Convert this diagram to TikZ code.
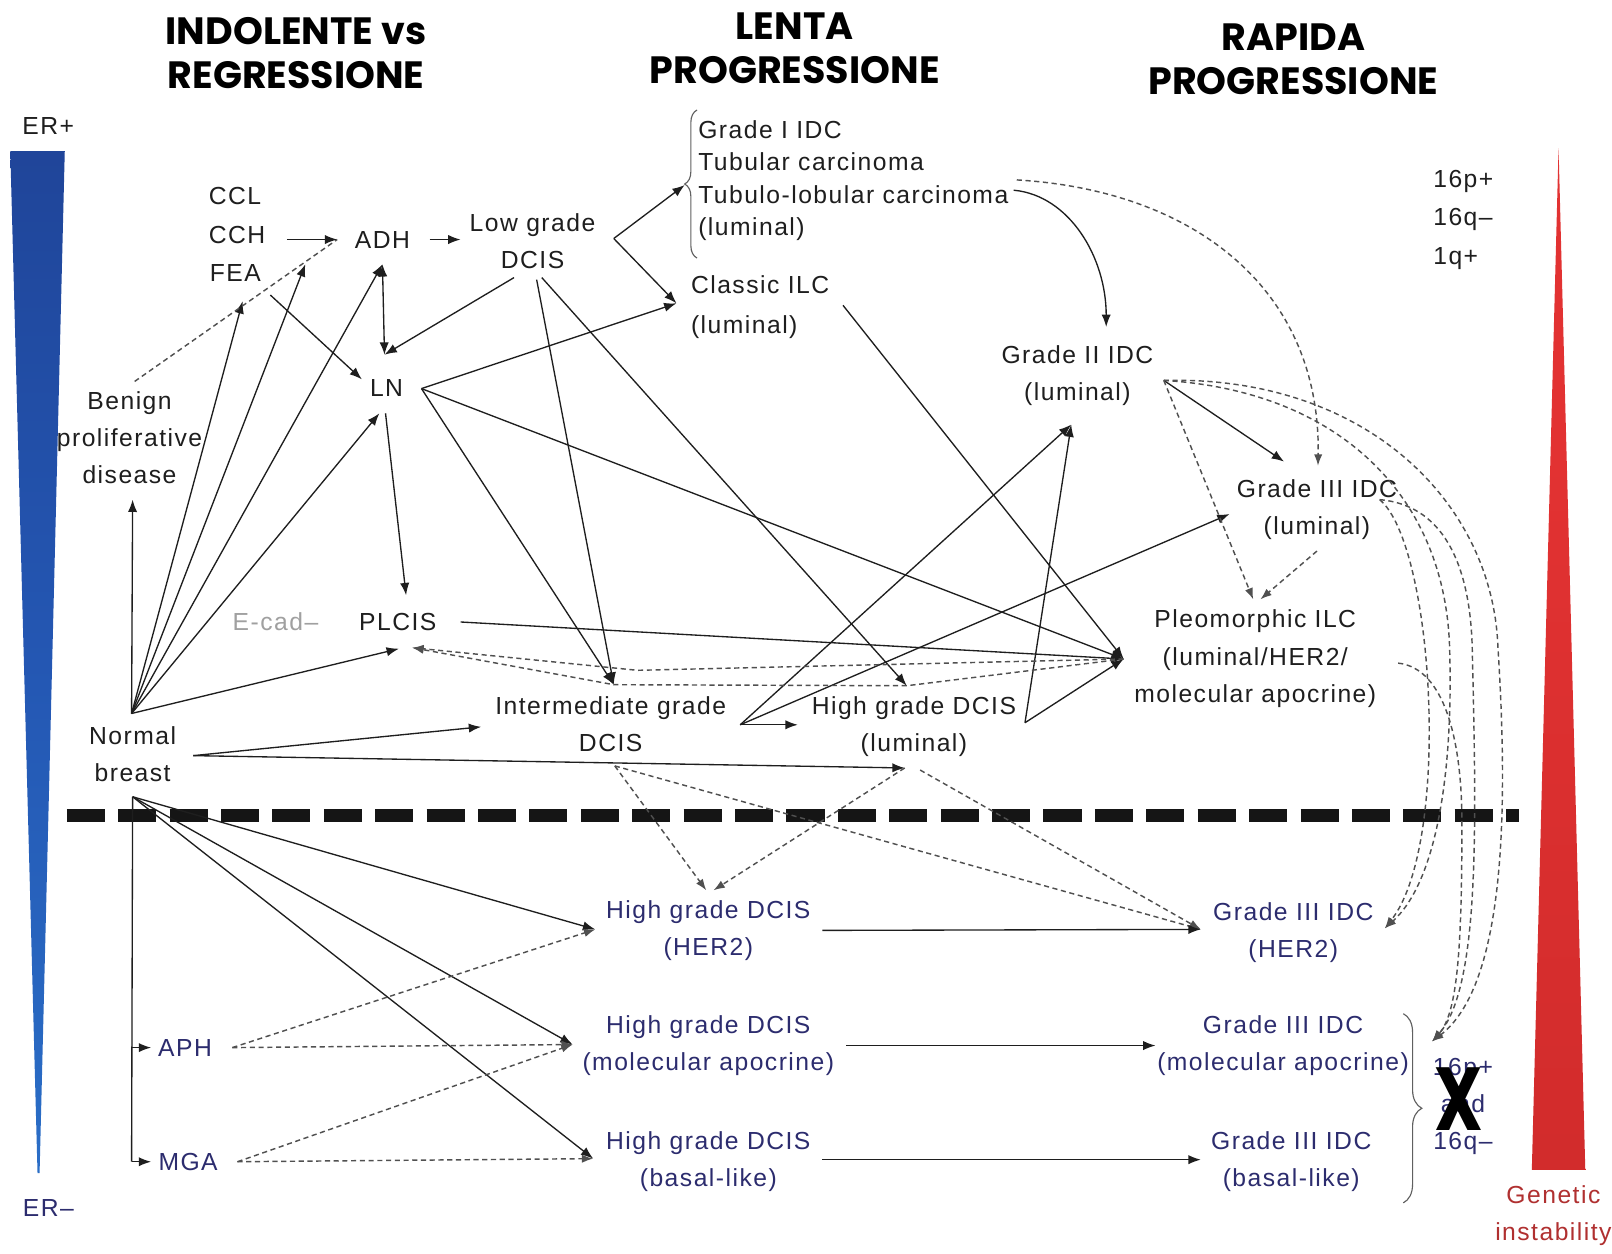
\documentclass[tikz,border=0pt]{standalone}
\usepackage{fontspec}
\usetikzlibrary{arrows.meta,decorations.pathreplacing}
\newfontfamily\lblfam{Liberation Sans}[LetterSpace=6]
\newfontfamily\headfam{Poppins}
\definecolor{ink}{HTML}{1E1E1E}
\definecolor{navy}{HTML}{2C2C6E}
\definecolor{dashc}{HTML}{505050}
\definecolor{brcol}{HTML}{606060}
\definecolor{ecadc}{HTML}{A0A0A0}
\definecolor{genc}{HTML}{B03030}
\definecolor{sepc}{HTML}{151515}
\definecolor{erTip}{HTML}{1A2340}
\definecolor{erLow}{HTML}{2F80D6}
\definecolor{erMid}{HTML}{2457B3}
\definecolor{erTop}{HTML}{1B3380}
\definecolor{giLow}{HTML}{C62727}
\definecolor{giMid}{HTML}{E23232}
\definecolor{giTop}{HTML}{2A1212}
\pgfdeclareverticalshading{erband}{100bp}{color(0bp)=(erTip); color(5bp)=(erLow); color(50bp)=(erMid); color(100bp)=(erTop)}
\pgfdeclareverticalshading{giband}{100bp}{color(0bp)=(giLow); color(60bp)=(giMid); color(96bp)=(giMid); color(100bp)=(giTop)}
\begin{document}
\begin{tikzpicture}[x=1pt,y=-1pt,
  lbl/.style={font=\lblfam\fontsize{24}{36}\selectfont, text=ink, align=center, inner sep=0pt},
  nlbl/.style={lbl, text=navy},
  head/.style={font=\headfam\bfseries\fontsize{37}{43}\selectfont, text=black, align=center, inner sep=0pt},
  arr/.style={draw=ink, line width=1.3pt, -{Latex[length=12pt,width=9pt]}},
  dblarr/.style={draw=ink, line width=1.3pt, {Latex[length=12pt,width=9pt]}-{Latex[length=12pt,width=9pt]}},
  plain/.style={draw=ink, line width=1.3pt},
  darr/.style={draw=dashc, line width=1.4pt, dash pattern=on 5pt off 3.5pt, -{Latex[length=11pt,width=8pt]}},
  dplain/.style={draw=dashc, line width=1.4pt, dash pattern=on 5pt off 3.5pt},
  brc/.style={draw=brcol, line width=1.1pt, decorate},
]
\useasboundingbox (0,0) rectangle (1568,1219);
\fill[white] (0,0) rectangle (1568,1219);

% ---- side bars: ER status and genetic instability ----
\shade[shading=erband] (10,147) -- (63,147) -- (38.5,1141) -- (36.5,1141) -- cycle;
\shade[shading=giband] (1516,144) -- (1542,1138) -- (1490,1138) -- cycle;

% ---- column headings ----
\node[head] (hInd) at (288,52) {INDOLENTE vs\\REGRESSIONE};
\node[head] (hLen) at (773,47) {LENTA\\PROGRESSIONE};
\node[head] (hRap) at (1258,58) {RAPIDA\\PROGRESSIONE};

% ---- labels, ER-positive part ----
\node[lbl] (erplus) at (47,123) {ER+};
\node[lbl, anchor=west] (ccl) at (203,191) {CCL};
\node[lbl, anchor=west] (cch) at (203,229) {CCH};
\node[lbl, anchor=west] (fea) at (204,266) {FEA};
\node[lbl] (adh) at (372,233) {ADH};
\node[lbl] (lowg) at (518,234.5) {Low grade\\DCIS};
\node[lbl, anchor=west, align=left, font=\lblfam\fontsize{24}{31.5}\selectfont] (g1) at (679,175.5)
  {Grade I IDC\\Tubular carcinoma\\Tubulo-lobular carcinoma\\(luminal)};
\node[lbl, anchor=west, align=left, font=\lblfam\fontsize{24}{39}\selectfont] (cilc) at (672,298.5) {Classic ILC\\(luminal)};
\node[lbl] (benign) at (126,426) {Benign\\proliferative\\disease};
\node[lbl] (ln) at (376,377) {LN};
\node[lbl] (g2) at (1048,365) {Grade II IDC\\(luminal)};
\node[lbl] (g3) at (1281,496) {Grade III IDC\\(luminal)};
\node[lbl, text=ecadc] (ecad) at (268,605) {E-cad–};
\node[lbl] (plcis) at (387,605) {PLCIS};
\node[lbl, font=\lblfam\fontsize{24}{36.5}\selectfont] (pleo) at (1221,641) {Pleomorphic ILC\\(luminal/HER2/\\molecular apocrine)};
\node[lbl] (inter) at (594,704) {Intermediate grade\\DCIS};
\node[lbl] (hgl) at (889,706.5) {High grade DCIS\\(luminal)};
\node[lbl] (normal) at (129,734) {Normal\\breast};
\node[lbl, anchor=west, align=left, font=\lblfam\fontsize{24}{37.5}\selectfont] (chromA) at (1394,213.5) {16p+\\16q–\\1q+};

% ---- labels, ER-negative part ----
\node[nlbl] (erminus) at (47,1175) {ER–};
\node[nlbl] (aph) at (180,1019) {APH};
\node[nlbl] (mga) at (183,1130) {MGA};
\node[nlbl] (hgher2) at (689,905.5) {High grade DCIS\\(HER2)};
\node[nlbl] (hgmol) at (689,1017.5) {High grade DCIS\\(molecular apocrine)};
\node[nlbl] (hgbas) at (689,1130) {High grade DCIS\\(basal-like)};
\node[nlbl] (g3her2) at (1258,907) {Grade III IDC\\(HER2)};
\node[nlbl] (g3mol) at (1248,1017.5) {Grade III IDC\\(molecular apocrine)};
\node[nlbl] (g3bas) at (1256,1130) {Grade III IDC\\(basal-like)};
\node[nlbl] (chromB) at (1423,1076) {16p+\\and\\16q–};
\node[font=\headfam\bfseries\fontsize{87}{87}\selectfont, inner sep=0pt] (xmark) at (1419,1069) {\scalebox{0.76}[1]{X}};
\node[lbl, text=genc] (genetic) at (1511,1182.5) {Genetic\\instability};

% ---- braces ----
\draw[brc, decoration={brace, amplitude=12pt}] (678,251) -- (678,107);
\draw[brc, decoration={brace, amplitude=18pt}] (1365,986) -- (1365,1170);

% ---- ER+/ER- divide ----
\draw[sepc, line width=13pt, dash pattern=on 37pt off 13pt] (65,793) -- (1478,793);

% ---- connector ports ----
\coordinate (nbTop) at (128,694);
\coordinate (nbRight) at (188,735);
\coordinate (nbBot) at (129,775);
\coordinate (bnBot) at (129,486);
\coordinate (bnTop) at (131,371);
\coordinate (feaIn) at (236,293);
\coordinate (feaOut) at (263,287);
\coordinate (cchIn) at (297,257);
\coordinate (cchOut) at (279,233);
\coordinate (adhIn) at (328,233);
\coordinate (adhOut) at (418,233);
\coordinate (adhBot) at (372,257);
\coordinate (lgIn) at (448,233);
\coordinate (lgFork) at (597,232);
\coordinate (lgSW) at (500,270);
\coordinate (lgS1) at (522,272);
\coordinate (lgS2) at (527,270);
\coordinate (g1In) at (666,180);
\coordinate (ciIn) at (658,295);
\coordinate (ciOut) at (820,297);
\coordinate (lnTop) at (374,345);
\coordinate (lnW) at (352,369);
\coordinate (lnBotL) at (369,402);
\coordinate (lnBotR) at (375,402);
\coordinate (lnRight) at (410,378);
\coordinate (plIn) at (395,579);
\coordinate (plSW) at (388,631);
\coordinate (plSE) at (401,630);
\coordinate (plOut) at (448,605);
\coordinate (inTop) at (597,666);
\coordinate (inLeft) at (468,707);
\coordinate (inRight) at (720,705);
\coordinate (inBot) at (598,745);
\coordinate (hlTop) at (882,667);
\coordinate (hlLeft) at (776,705);
\coordinate (hlRight) at (997,703);
\coordinate (hlBot) at (880,747);
\coordinate (hlBotB) at (895,749);
\coordinate (g2Bot) at (1042,413);
\coordinate (g2Top) at (1076,318);
\coordinate (g2Right) at (1132,370);
\coordinate (g3Top) at (1282,453);
\coordinate (g3Left) at (1196,500);
\coordinate (g3In) at (1249,449);
\coordinate (g3Bot) at (1281,536);
\coordinate (g3Right) at (1342,486);
\coordinate (ploIn) at (1093,641);
\coordinate (ploTopA) at (1219,583);
\coordinate (ploTopB) at (1226,583);
\coordinate (ploRight) at (1360,645);
\coordinate (tbEnd) at (986,185);
\coordinate (tbEndB) at (989,175);
\coordinate (spAph) at (128,1019);
\coordinate (spMga) at (128,1130);
\coordinate (aphIn) at (147,1019);
\coordinate (aphOut) at (226,1019);
\coordinate (mgaIn) at (147,1130);
\coordinate (mgaOut) at (231,1130);
\coordinate (hhIn) at (579,904);
\coordinate (hhOut) at (800,905);
\coordinate (hhTopA) at (687,866);
\coordinate (hhTopB) at (694,866);
\coordinate (hmIn) at (557,1016);
\coordinate (hmOut) at (823,1017);
\coordinate (hbIn) at (577,1127);
\coordinate (hbOut) at (800,1128);
\coordinate (ghIn) at (1168,904);
\coordinate (ghRight) at (1347,903);
\coordinate (gmIn) at (1124,1017);
\coordinate (gbIn) at (1168,1128);
\coordinate (brIn) at (1393,1013);

% ---- solid pathways, ER+ ----
\draw[arr] (cchOut) -- (adhIn);
\draw[arr] (adhOut) -- (lgIn);
\draw[arr] (lgFork) -- (g1In);
\draw[arr] (lgFork) -- (ciIn);
\draw[arr] (feaOut) -- (lnW);
\draw[dblarr] (adhBot) -- (lnTop);
\draw[arr] (lgSW) -- (lnTop);
\draw[arr] (lnRight) -- (ciIn);
\draw[arr] (lnBotR) -- (plIn);
\draw[arr] (lnRight) -- (inTop);
\draw[arr] (lnRight) -- (ploIn);
\draw[arr] (lgS1) -- (inTop);
\draw[arr] (lgS2) -- (hlTop);
\draw[arr] (ciOut) -- (ploIn);
\draw[arr] (plOut) -- (ploIn);
\draw[arr] (inRight) -- (hlLeft);
\draw[arr] (inRight) -- (g2Bot);
\draw[arr] (inRight) -- (g3Left);
\draw[arr] (hlRight) -- (g2Bot);
\draw[arr] (hlRight) -- (ploIn);
\draw[arr] (g2Right) -- (g3In);
\draw[arr] (tbEnd) .. controls (1040,190) and (1076,250) .. (g2Top);
\draw[arr] (nbTop) -- (bnBot);
\draw[arr] (nbTop) -- (feaIn);
\draw[arr] (nbTop) -- (cchIn);
\draw[arr] (nbTop) -- (adhBot);
\draw[arr] (nbTop) -- (lnBotL);
\draw[arr] (nbTop) -- (plSW);
\draw[arr] (nbRight) -- (inLeft);
\draw[arr] (nbRight) -- (hlBot);

% ---- uncertain pathways, ER+ ----
\draw[dplain] (bnTop) -- (adhIn);
\draw[darr] (tbEndB) .. controls (1160,185) and (1285,280) .. (g3Top);
\draw[darr] (g2Right) -- (ploTopA);
\draw[darr] (g3Bot) -- (ploTopB);
\draw[darr] (ploIn) -- (620,652) -- (plSE);
\draw[darr] (ploIn) -- (hlTop) -- (inTop) -- (plSE);

% ---- towards ER- carcinomas ----
\draw[darr] (g3Right) .. controls (1395,530) and (1412,820) .. (ghRight);
\draw[darr] (g2Right) .. controls (1300,380) and (1405,480) .. (1410,629) .. controls (1414,760) and (1395,860) .. (ghRight);
\draw[darr] (ploRight) .. controls (1405,650) and (1422,720) .. (1422,800) .. controls (1422,920) and (1418,985) .. (brIn);
\draw[darr] (g3Right) .. controls (1410,492) and (1430,560) .. (1432,629) .. controls (1436,800) and (1440,960) .. (brIn);
\draw[darr] (g2Right) .. controls (1330,365) and (1452,490) .. (1457,629) .. controls (1468,800) and (1462,960) .. (brIn);
\draw[darr] (inBot) -- (hhTopA);
\draw[darr] (hlBot) -- (hhTopB);
\draw[darr] (inBot) -- (ghIn);
\draw[darr] (hlBotB) -- (ghIn);

% ---- ER- pathways ----
\draw[plain] (nbBot) -- (spMga);
\draw[arr] (spAph) -- (aphIn);
\draw[arr] (spMga) -- (mgaIn);
\draw[arr] (nbBot) -- (hhIn);
\draw[arr] (nbBot) -- (hmIn);
\draw[arr] (nbBot) -- (hbIn);
\draw[darr] (aphOut) -- (hhIn);
\draw[darr] (aphOut) -- (hmIn);
\draw[darr] (mgaOut) -- (hmIn);
\draw[darr] (mgaOut) -- (hbIn);
\draw[arr] (hhOut) -- (ghIn);
\draw[arr] (hmOut) -- (gmIn);
\draw[arr] (hbOut) -- (gbIn);
\end{tikzpicture}
\end{document}
